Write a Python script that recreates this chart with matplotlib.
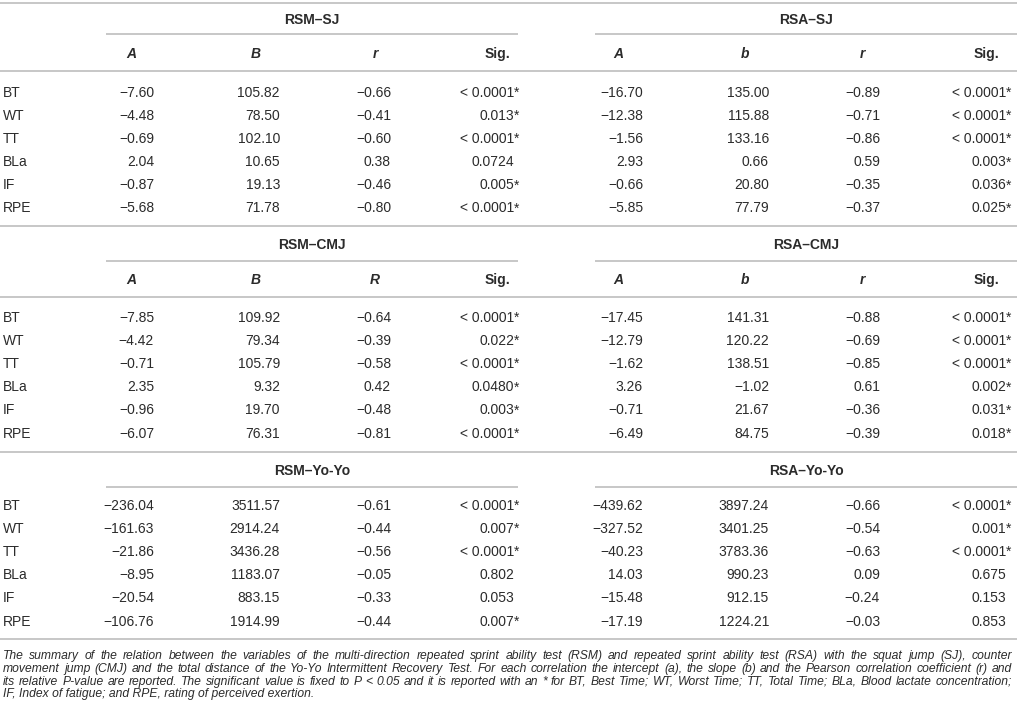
import matplotlib
matplotlib.use("Agg")
import matplotlib.pyplot as plt

plt.rcParams['font.family'] = ['Liberation Sans', 'DejaVu Sans']

VARIABLES = ["BT", "WT", "TT", "BLa", "IF", "RPE"]

# RSM-SJ / RSA-SJ
RSM_SJ_A = [-7.60, -4.48, -0.69, 2.04, -0.87, -5.68]
RSM_SJ_B = [105.82, 78.50, 102.10, 10.65, 19.13, 71.78]
RSM_SJ_R = [-0.66, -0.41, -0.60, 0.38, -0.46, -0.80]
RSM_SJ_SIG = ["< 0.0001*", "0.013*", "< 0.0001*", "0.0724", "0.005*", "< 0.0001*"]

RSA_SJ_A = [-16.70, -12.38, -1.56, 2.93, -0.66, -5.85]
RSA_SJ_B = [135.00, 115.88, 133.16, 0.66, 20.80, 77.79]
RSA_SJ_R = [-0.89, -0.71, -0.86, 0.59, -0.35, -0.37]
RSA_SJ_SIG = ["< 0.0001*", "< 0.0001*", "< 0.0001*", "0.003*", "0.036*", "0.025*"]

# RSM-CMJ / RSA-CMJ
RSM_CMJ_A = [-7.85, -4.42, -0.71, 2.35, -0.96, -6.07]
RSM_CMJ_B = [109.92, 79.34, 105.79, 9.32, 19.70, 76.31]
RSM_CMJ_R = [-0.64, -0.39, -0.58, 0.42, -0.48, -0.81]
RSM_CMJ_SIG = ["< 0.0001*", "0.022*", "< 0.0001*", "0.0480*", "0.003*", "< 0.0001*"]

RSA_CMJ_A = [-17.45, -12.79, -1.62, 3.26, -0.71, -6.49]
RSA_CMJ_B = [141.31, 120.22, 138.51, -1.02, 21.67, 84.75]
RSA_CMJ_R = [-0.88, -0.69, -0.85, 0.61, -0.36, -0.39]
RSA_CMJ_SIG = ["< 0.0001*", "< 0.0001*", "< 0.0001*", "0.002*", "0.031*", "0.018*"]

# RSM-Yo-Yo / RSA-Yo-Yo
RSM_YOYO_A = [-236.04, -161.63, -21.86, -8.95, -20.54, -106.76]
RSM_YOYO_B = [3511.57, 2914.24, 3436.28, 1183.07, 883.15, 1914.99]
RSM_YOYO_R = [-0.61, -0.44, -0.56, -0.05, -0.33, -0.44]
RSM_YOYO_SIG = ["< 0.0001*", "0.007*", "< 0.0001*", "0.802", "0.053", "0.007*"]

RSA_YOYO_A = [-439.62, -327.52, -40.23, 14.03, -15.48, -17.19]
RSA_YOYO_B = [3897.24, 3401.25, 3783.36, 990.23, 912.15, 1224.21]
RSA_YOYO_R = [-0.66, -0.54, -0.63, 0.09, -0.24, -0.03]
RSA_YOYO_SIG = ["< 0.0001*", "0.001*", "< 0.0001*", "0.675", "0.153", "0.853"]

CAPTION = [
    "The summary of the relation between the variables of the multi-direction repeated sprint ability test (RSM) and repeated sprint ability test (RSA) with the squat jump (SJ), counter",
    "movement jump (CMJ) and the total distance of the Yo-Yo Intermittent Recovery Test. For each correlation the intercept (a), the slope (b) and the Pearson correlation coefficient (r) and",
    "its relative P-value are reported. The significant value is fixed to P < 0.05 and it is reported with an * for BT, Best Time; WT, Worst Time; TT, Total Time; BLa, Blood lactate concentration;",
    "IF, Index of fatigue; and RPE, rating of perceived exertion.",
]

TXT = "#2b2b2b"
LINE = "#bdbdbd"
FS = 10

W, H = 1017, 716
fig = plt.figure(figsize=(W / 100, H / 100), dpi=100)
ax = fig.add_axes([0, 0, 1, 1])
ax.set_xlim(0, W)
ax.set_ylim(H, 0)
ax.axis("off")
renderer = fig.canvas.get_renderer()


def fmt(v):
    s = f"{v:.2f}"
    return s.replace("-", "\u2212")


def put(x, y, s, ha="left", fs=FS, **kw):
    # y is visual centre of capitals
    return ax.text(x, y + 0.36 * fs * 100 / 72, s, ha=ha, va="baseline",
                   fontsize=fs, color=TXT, **kw)


def hline(y, x0=0, x1=W):
    ax.plot([x0, x1], [y, y], color=LINE, lw=1.2, solid_capstyle="butt")


def text_width(s, fs, **kw):
    t = ax.text(0, 0, s, fontsize=fs, **kw)
    w = t.get_window_extent(renderer).width
    t.remove()
    return w


# column geometry for the two panels
panels = [
    dict(span=(106, 518), num_right=[154, 280, 391], head_x=[131, 256, 375, 497], sig_right=514),
    dict(span=(595, W), num_right=[643, 769, 880], head_x=[618, 745, 862, 986], sig_right=1006),
]

blocks = [
    dict(titles=["RSM\u2013SJ", "RSA\u2013SJ"],
         heads=[["A", "B", "r", "Sig."], ["A", "b", "r", "Sig."]],
         data=[(RSM_SJ_A, RSM_SJ_B, RSM_SJ_R, RSM_SJ_SIG),
               (RSA_SJ_A, RSA_SJ_B, RSA_SJ_R, RSA_SJ_SIG)],
         y_title=19, y_under=34, y_head=53, y_line=71, y_row0=92, y_end=226),
    dict(titles=["RSM\u2013CMJ", "RSA\u2013CMJ"],
         heads=[["A", "B", "R", "Sig."], ["A", "b", "r", "Sig."]],
         data=[(RSM_CMJ_A, RSM_CMJ_B, RSM_CMJ_R, RSM_CMJ_SIG),
               (RSA_CMJ_A, RSA_CMJ_B, RSA_CMJ_R, RSA_CMJ_SIG)],
         y_title=244, y_under=261, y_head=279, y_line=297, y_row0=317, y_end=452),
    dict(titles=["RSM\u2013Yo-Yo", "RSA\u2013Yo-Yo"],
         heads=None,
         data=[(RSM_YOYO_A, RSM_YOYO_B, RSM_YOYO_R, RSM_YOYO_SIG),
               (RSA_YOYO_A, RSA_YOYO_B, RSA_YOYO_R, RSA_YOYO_SIG)],
         y_title=470, y_under=487, y_head=None, y_line=None, y_row0=505, y_end=639),
]

ROW_STEP = 23.1

hline(3)
for blk in blocks:
    for p, title in zip(panels, blk["titles"]):
        x0, x1 = p["span"]
        put((x0 + x1) / 2, blk["y_title"], title, ha="center", fontweight="bold")
        hline(blk["y_under"], x0, x1)
    if blk["heads"] is not None:
        for p, heads in zip(panels, blk["heads"]):
            for hx, h in zip(p["head_x"], heads):
                style = "normal" if h == "Sig." else "italic"
                put(hx, blk["y_head"], h, ha="center", fontweight="bold", style=style)
        hline(blk["y_line"])
    for i, var in enumerate(VARIABLES):
        y = blk["y_row0"] + i * ROW_STEP
        put(3, y, var)
        for p, (a, b, r, sig) in zip(panels, blk["data"]):
            for xr, v in zip(p["num_right"], (a[i], b[i], r[i])):
                put(xr, y, fmt(v), ha="right")
            s = sig[i]
            if s.endswith("*"):
                put(p["sig_right"], y, s[:-1], ha="right")
                put(p["sig_right"], y, "*")
            else:
                put(p["sig_right"], y, s, ha="right")
    hline(blk["y_end"])

# caption, justified like the journal layout; font sized to fill the width
cap_left, cap_right = 3, 1012
probe = 8.0
widest = max(text_width(l, probe, style="italic") for l in CAPTION[:-1])
cap_fs = probe * (cap_right - cap_left) / widest * 0.99
cap_y = [655, 667.7, 680.4, 693]
for k, line in enumerate(CAPTION):
    base = cap_y[k] + 0.36 * cap_fs * 100 / 72
    if k == len(CAPTION) - 1:
        # last line of a paragraph is set ragged
        ax.text(cap_left, base, line, ha="left", va="baseline", fontsize=cap_fs,
                style="italic", color=TXT)
        continue
    words = line.split(" ")
    objs = [ax.text(0, base, w, ha="left", va="baseline", fontsize=cap_fs,
                    style="italic", color=TXT) for w in words]
    widths = [o.get_window_extent(renderer).width for o in objs]
    gap = (cap_right - cap_left - sum(widths)) / (len(words) - 1)
    x = cap_left
    for o, w in zip(objs, widths):
        o.set_x(x)
        x += w + gap

fig.savefig("out.png", dpi=100, facecolor="white")
